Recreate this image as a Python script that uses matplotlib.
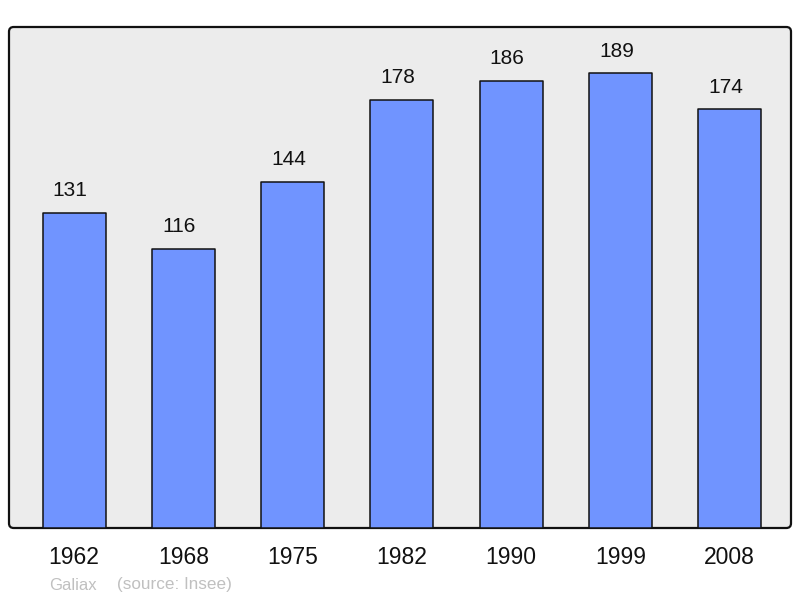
import matplotlib
matplotlib.use("Agg")
import matplotlib.pyplot as plt
from matplotlib.patches import FancyBboxPatch

# population by census year
years = ["1962", "1968", "1975", "1982", "1990", "1999", "2008"]
population = [131, 116, 144, 178, 186, 189, 174]

plt.rcParams["font.family"] = ["Liberation Sans", "DejaVu Sans"]

fig = plt.figure(figsize=(8, 5.98), dpi=100)
W, H = 800, 598
# axes placed in pixel terms: left 9, right 791, top 27, bottom 528
ax = fig.add_axes([9 / W, 1 - 528 / H, 782 / W, 501 / H])
ax.set_facecolor("none")

positions = list(range(len(years)))
ax.bar(positions, population, width=0.576, color="#7094ff",
       edgecolor="#111111", linewidth=1.1, joinstyle="round", zorder=2)

for x, v in zip(positions, population):
    ax.annotate(str(v), (x, v), xytext=(-3, 9), textcoords="offset points",
                ha="center", va="bottom", fontsize=15, color="#111111")

ax.set_xlim(-0.595, 6.56)
ax.set_ylim(0, 208.3)
ax.set_xticks(positions)
ax.set_xticklabels(years, fontsize=16.5, color="#111111")
ax.tick_params(axis="x", length=0, pad=13)
ax.set_yticks([])
for s in ax.spines.values():
    s.set_visible(False)

# rounded frame with grey fill
frame = FancyBboxPatch((0, 0), 1, 1, boxstyle="round,pad=0,rounding_size=0.006",
                       transform=ax.transAxes, facecolor="#ececec",
                       edgecolor="#111111", linewidth=1.6, zorder=0,
                       mutation_aspect=782 / 501, clip_on=False)
ax.add_patch(frame)

fig.text(49 / W, 1 - 585 / H, "Galiax", fontsize=12, color="#c0c0c0",
         ha="left", va="center")
fig.text(117 / W, 1 - 585 / H, "(source: Insee)", fontsize=12.3,
         color="#c0c0c0", ha="left", va="center")

fig.savefig("out.png", dpi=100)
